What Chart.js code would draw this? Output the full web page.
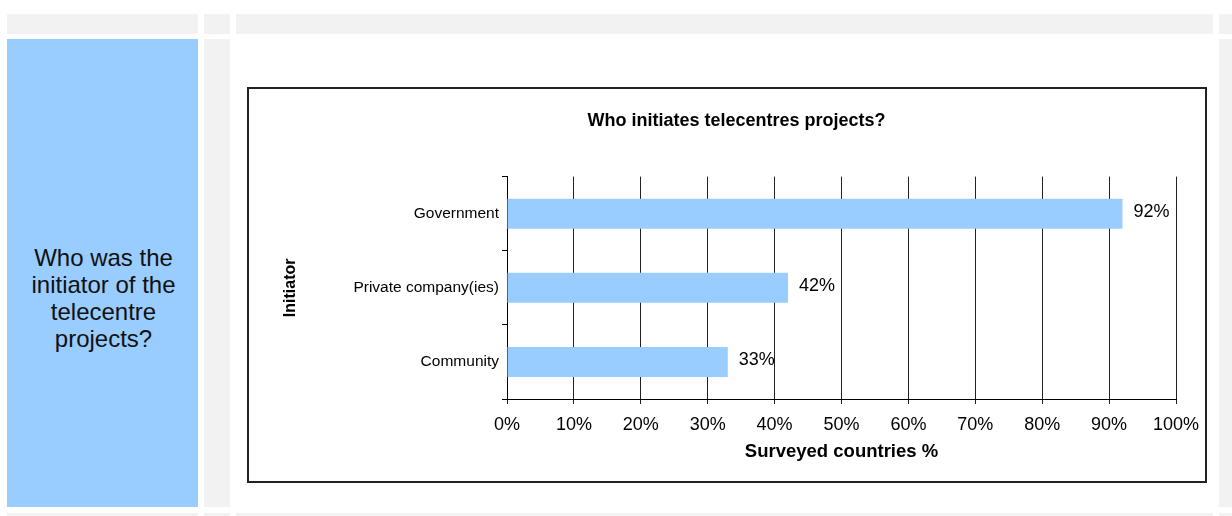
<!DOCTYPE html>
<html>
<head>
<meta charset="utf-8">
<script src="https://cdn.jsdelivr.net/npm/chart.js@4"></script>
<style>
  html, body { margin: 0; padding: 0; background: #fff; }
  body { width: 1232px; height: 516px; position: relative; overflow: hidden; font-family: "Liberation Sans", Arial, sans-serif; }
  .cell { position: absolute; background: #f2f2f2; }
  .q { position: absolute; left: 7px; top: 39px; width: 191px; height: 468px; background: #99ccff; }
  .q .txt { position: absolute; left: 0; width: 193px; top: 205px; text-align: center; font-size: 24px; line-height: 27px; color: #111; }
  .frame { position: absolute; left: 247px; top: 87px; width: 956px; height: 392px; border: 2px solid #222; background: #fff; }
  .frame canvas { position: absolute; left: 0; top: 0; }
</style>
</head>
<body>
  <div class="cell" style="left:7px;top:14px;width:191px;height:20px"></div>
  <div class="cell" style="left:204px;top:14px;width:26px;height:20px"></div>
  <div class="cell" style="left:236px;top:14px;width:977px;height:20px"></div>
  <div class="cell" style="left:1219px;top:14px;width:13px;height:20px"></div>
  <div class="cell" style="left:204px;top:39px;width:26px;height:468px"></div>
  <div class="cell" style="left:1219px;top:39px;width:13px;height:468px"></div>
  <div class="cell" style="left:7px;top:513px;width:191px;height:3px"></div>
  <div class="cell" style="left:204px;top:513px;width:26px;height:3px"></div>
  <div class="cell" style="left:236px;top:513px;width:977px;height:3px"></div>
  <div class="cell" style="left:1219px;top:513px;width:13px;height:3px"></div>

  <div class="q"><div class="txt">Who was the<br>initiator of the<br>telecentre<br>projects?</div></div>

  <div class="frame"><canvas id="chart" width="956" height="392"></canvas></div>

<script>
// Survey results: share of countries naming each initiator
const initiators = ['Government', 'Private company(ies)', 'Community'];
const shares = [92, 42, 33];
const xTicks = [0, 10, 20, 30, 40, 50, 60, 70, 80, 90, 100];

const FONT = '"Liberation Sans", Arial, sans-serif';

// Writes the percentage just past the end of each bar
const valueLabels = {
  id: 'valueLabels',
  afterDatasetsDraw(chart) {
    const ctx = chart.ctx;
    const meta = chart.getDatasetMeta(0);
    ctx.save();
    ctx.font = '18px ' + FONT;
    ctx.fillStyle = '#000';
    ctx.textAlign = 'left';
    ctx.textBaseline = 'middle';
    meta.data.forEach((bar, i) => {
      ctx.fillText(shares[i] + '%', bar.x + 11, bar.y - 2);
    });
    ctx.restore();
  }
};

new Chart(document.getElementById('chart'), {
  type: 'bar',
  data: {
    labels: initiators,
    datasets: [{
      data: shares,
      backgroundColor: '#99ccff',
      borderWidth: 0,
      barPercentage: 0.405,
      categoryPercentage: 1
    }]
  },
  options: {
    indexAxis: 'y',
    responsive: false,
    animation: false,
    layout: { padding: { left: 32, right: 13, top: 0, bottom: 18 } },
    plugins: {
      legend: { display: false },
      tooltip: { enabled: false },
      title: {
        display: true,
        text: 'Who initiates telecentres projects?',
        color: '#000',
        font: { family: FONT, size: 18, weight: 'bold', lineHeight: 1.2 },
        padding: { top: 21, bottom: 45 }
      }
    },
    scales: {
      x: {
        type: 'linear',
        min: 0,
        max: 100,
        afterBuildTicks(axis) { axis.ticks = xTicks.map(v => ({ value: v })); },
        afterFit(scale) {
          scale.height = 64;
          scale.paddingLeft = 0;
          scale.paddingRight = 29;
        },
        grid: { color: '#222', lineWidth: 1, drawTicks: true, tickLength: 5, tickColor: '#222' },
        border: { display: true, color: '#000', width: 1 },
        ticks: {
          color: '#000',
          padding: 10,
          maxRotation: 0,
          font: { family: FONT, size: 18 },
          callback: v => v + '%'
        },
        title: {
          display: true,
          text: 'Surveyed countries %',
          color: '#000',
          font: { family: FONT, size: 18.5, weight: 'bold', lineHeight: 1.2 },
          padding: { top: 0, bottom: 0 }
        }
      },
      y: {
        afterFit(scale) { scale.width = 226; },
        grid: { offset: true, drawOnChartArea: false, drawTicks: true, tickLength: 5, tickColor: '#000' },
        border: { display: true, color: '#000', width: 1 },
        ticks: {
          color: '#000',
          padding: 3,
          font: { family: FONT, size: 15.5 }
        },
        title: {
          display: true,
          text: 'Initiator',
          color: '#000',
          font: { family: FONT, size: 16, weight: 'bold', lineHeight: 1.2 },
          padding: { top: 0, bottom: 0 }
        }
      }
    }
  },
  plugins: [valueLabels]
});
</script>
</body>
</html>
